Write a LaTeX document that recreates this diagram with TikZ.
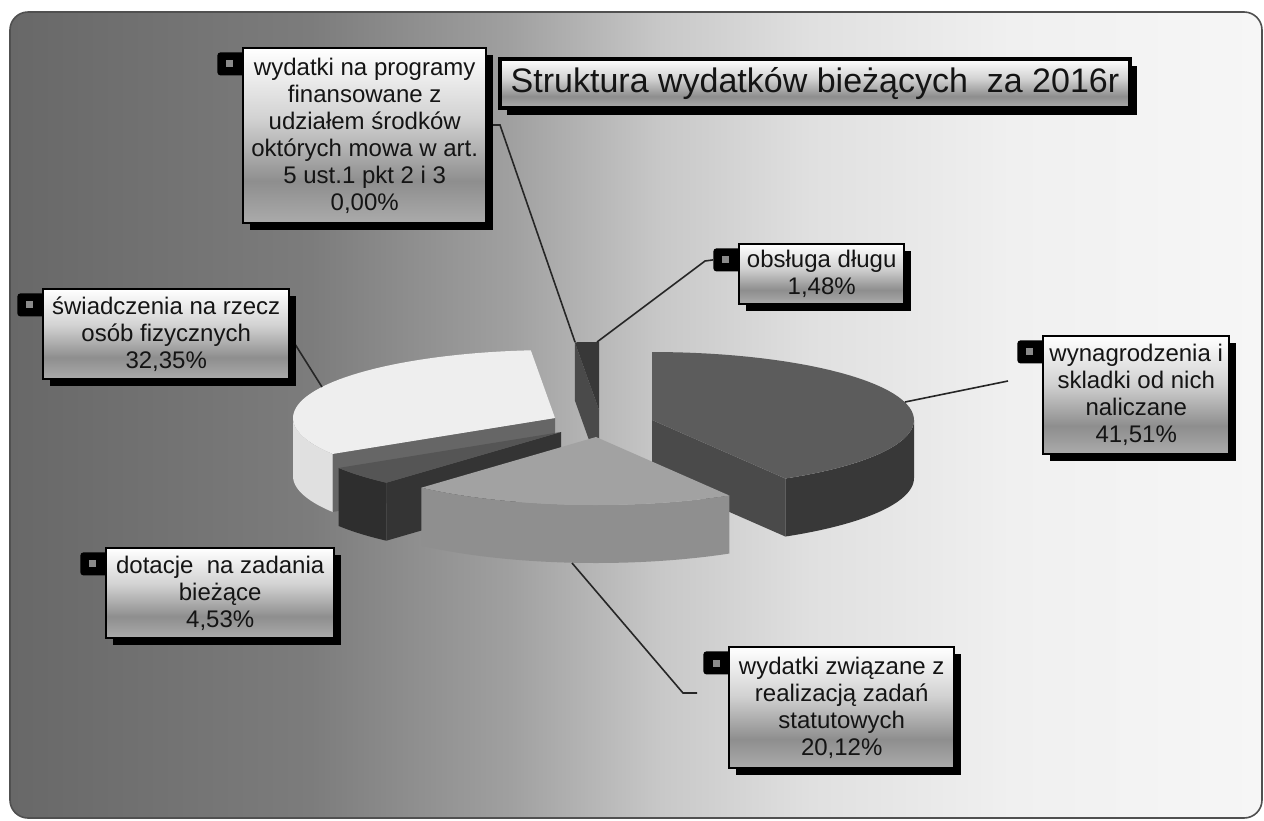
\documentclass[tikz,border=0pt]{standalone}
\usepackage{fontspec}
\setmainfont{Liberation Sans}
\usetikzlibrary{shadows}
\definecolor{bgA}{HTML}{686868}
\definecolor{bgB}{HTML}{7C7C7C}
\definecolor{bgC}{HTML}{A0A0A0}
\definecolor{bgD}{HTML}{C8C8C8}
\definecolor{bgE}{HTML}{E0E0E0}
\definecolor{bgF}{HTML}{F0F0F0}
\definecolor{bgG}{HTML}{F6F6F6}
\definecolor{lbA}{HTML}{ABABAB}
\definecolor{lbB}{HTML}{8E8E8E}
\definecolor{lbC}{HTML}{D2D2D2}
\definecolor{lbD}{HTML}{FFFFFF}
\definecolor{txt}{HTML}{141414}
\definecolor{frameC}{HTML}{505050}
\definecolor{keygray}{HTML}{8A8A8A}
\definecolor{darkTop}{HTML}{5C5C5C}
\definecolor{darkCut}{HTML}{4A4A4A}
\definecolor{darkWall}{HTML}{383838}
\definecolor{midTop}{HTML}{A2A2A2}
\definecolor{midWall}{HTML}{8F8F8F}
\definecolor{whiteTop}{HTML}{EEEEEE}
\definecolor{whiteWall}{HTML}{E0E0E0}
\definecolor{whiteCut}{HTML}{666666}
\definecolor{dotTop}{HTML}{555555}
\definecolor{dotCut}{HTML}{343434}
\definecolor{dotWall}{HTML}{2E2E2E}
\definecolor{slvTop}{HTML}{383838}
\definecolor{slvCut}{HTML}{4A4A4A}
\pgfdeclarehorizontalshading{bgshade}{100bp}{color(0bp)=(bgA); color(25bp)=(bgA); color(37bp)=(bgB); color(45bp)=(bgC); color(51bp)=(bgD); color(57bp)=(bgE); color(65bp)=(bgF); color(75bp)=(bgG); color(100bp)=(bgG)}
\pgfdeclareverticalshading{lblshade}{100bp}{color(0bp)=(lbA); color(25bp)=(lbA); color(37bp)=(lbB); color(55bp)=(lbC); color(75bp)=(lbD); color(100bp)=(lbD)}
\def\pieRX{262}
\def\pieRY{68}
\def\pieH{58}
\newcommand\pieTop[5]{\fill[#5] (#1,#2) -- plot[domain=#3:#4,samples=50] ({#1+\pieRX*sin(\x)},{#2-\pieRY*cos(\x)}) -- cycle;}
\newcommand\pieWall[5]{\fill[#5] plot[domain=#3:#4,samples=50] ({#1+\pieRX*sin(\x)},{#2-\pieRY*cos(\x)}) -- plot[domain=#4:#3,samples=50] ({#1+\pieRX*sin(\x)},{#2+\pieH-\pieRY*cos(\x)}) -- cycle;}
\newcommand\pieCut[4]{\fill[#4] (#1,#2) -- ({#1+\pieRX*sin(#3)},{#2-\pieRY*cos(#3)}) -- ++(0,\pieH) -- (#1,{#2+\pieH}) -- cycle;}
\tikzset{
  lbl/.style={draw=black, line width=1.2pt, shading=lblshade, text=txt, align=center,
    inner sep=0pt, anchor=north west, font=\fontsize{12}{13.5}\selectfont,
    drop shadow={shadow xshift=3.5pt, shadow yshift=-3.5pt, fill=black, opacity=1}},
  ttl/.style={lbl, line width=2pt, font=\fontsize{17}{20}\selectfont},
  keytab/.style={fill=black, rounded corners=1.5pt, minimum width=15pt, minimum height=11.5pt, inner sep=0pt, anchor=north west},
  keysq/.style={fill=keygray, minimum size=3.5pt, inner sep=0pt},
  leader/.style={draw=black!85, line width=0.8pt},
}
\begin{document}
\begin{tikzpicture}[x=0.5pt,y=-0.5pt]
\useasboundingbox (0,0) rectangle (1264,820);
\fill[white] (0,0) rectangle (1264,820);
% frame with background gradient
\path[shading=bgshade, draw=frameC, line width=0.8pt, rounded corners=9pt] (10,12) rectangle (1262,818);
% ---- pie (back to front)
% obsluga dlugu (sliver)
\pieCut{599}{410}{354.7}{slvCut}
\pieTop{599}{410}{354.7}{360}{slvTop}
% swiadczenia
\pieCut{555}{418}{238.1}{whiteCut}
\pieWall{555}{418}{238.1}{270}{whiteWall}
\pieTop{555}{418}{238.1}{354.7}{whiteTop}
% wynagrodzenia
\pieCut{652}{420}{149.4}{darkCut}
\pieWall{652}{420}{90}{149.4}{darkWall}
\pieTop{652}{420}{0}{149.4}{darkTop}
% dotacje
\pieCut{561}{432}{221.8}{dotCut}
\pieWall{561}{432}{221.8}{238.1}{dotWall}
\pieTop{561}{432}{221.8}{238.1}{dotTop}
% wydatki zwiazane
\pieWall{596}{437}{149.4}{221.8}{midWall}
\pieTop{596}{437}{149.4}{221.8}{midTop}
% ---- anchor points on slices and leader elbows
\coordinate (sA) at (575,342);
\coordinate (sB) at (597,342);
\coordinate (wA) at (322,387);
\coordinate (dA) at (905,402);
\coordinate (mA) at (572,563);
\coordinate (pA) at (500,125);
\coordinate (pB) at (705,261);
\coordinate (pD) at (1008,381);
\coordinate (pM) at (683,693);
\coordinate (pM2) at (697,693);
% ---- key tabs
\node[keytab] (progkey) at (217,52) {};
\node[keytab] (swiadkey) at (17,293) {};
\node[keytab] (obslkey) at (713,248) {};
\node[keytab] (wynkey) at (1017,340) {};
\node[keytab] (dotkey) at (80,552) {};
\node[keytab] (zwiazkey) at (703,651) {};
% ---- leaders
\draw[leader] (485,125) -- (pA) -- (sA);
\draw[leader] (sB) -- (pB) -- (obslkey.west);
\draw[leader] (288,333) -- (wA);
\draw[leader] (dA) -- (pD);
\draw[leader] (mA) -- (pM) -- (pM2);
% ---- label boxes
\node[lbl, minimum width=121.5pt, minimum height=87.5pt] (prog) at (242,47)
  {wydatki na programy\\finansowane z\\udziałem środków\\októrych mowa w art.\\5 ust.1 pkt 2 i 3\\0,00\%};
\node[lbl, minimum width=123pt, minimum height=45pt] (swiad) at (42,288)
  {świadczenia na rzecz\\osób fizycznych\\32,35\%};
\node[lbl, minimum width=82.5pt, minimum height=30pt] (obsl) at (738,243)
  {obsługa długu\\1,48\%};
\node[lbl, minimum width=93pt, minimum height=59pt] (wyn) at (1042,335)
  {wynagrodzenia i\\skladki od nich\\naliczane\\41,51\%};
\node[lbl, minimum width=114pt, minimum height=45pt] (dot) at (105,547)
  {dotacje\ \ na zadania\\bieżące\\4,53\%};
\node[lbl, minimum width=112.5pt, minimum height=60.5pt] (zwiaz) at (728,646)
  {wydatki związane z\\realizacją zadań\\statutowych\\20,12\%};
\node[ttl, minimum width=315pt, minimum height=24.5pt] (title) at (498,57)
  {Struktura wydatków bieżących\ \ za 2016r};
% ---- key squares
\node[keysq] (progsq) at (229,63) {};
\node[keysq] (swiadsq) at (29,304) {};
\node[keysq] (obslsq) at (725,259) {};
\node[keysq] (wynsq) at (1029,351) {};
\node[keysq] (dotsq) at (92,563) {};
\node[keysq] (zwiazsq) at (716,663) {};
\end{tikzpicture}
\end{document}
